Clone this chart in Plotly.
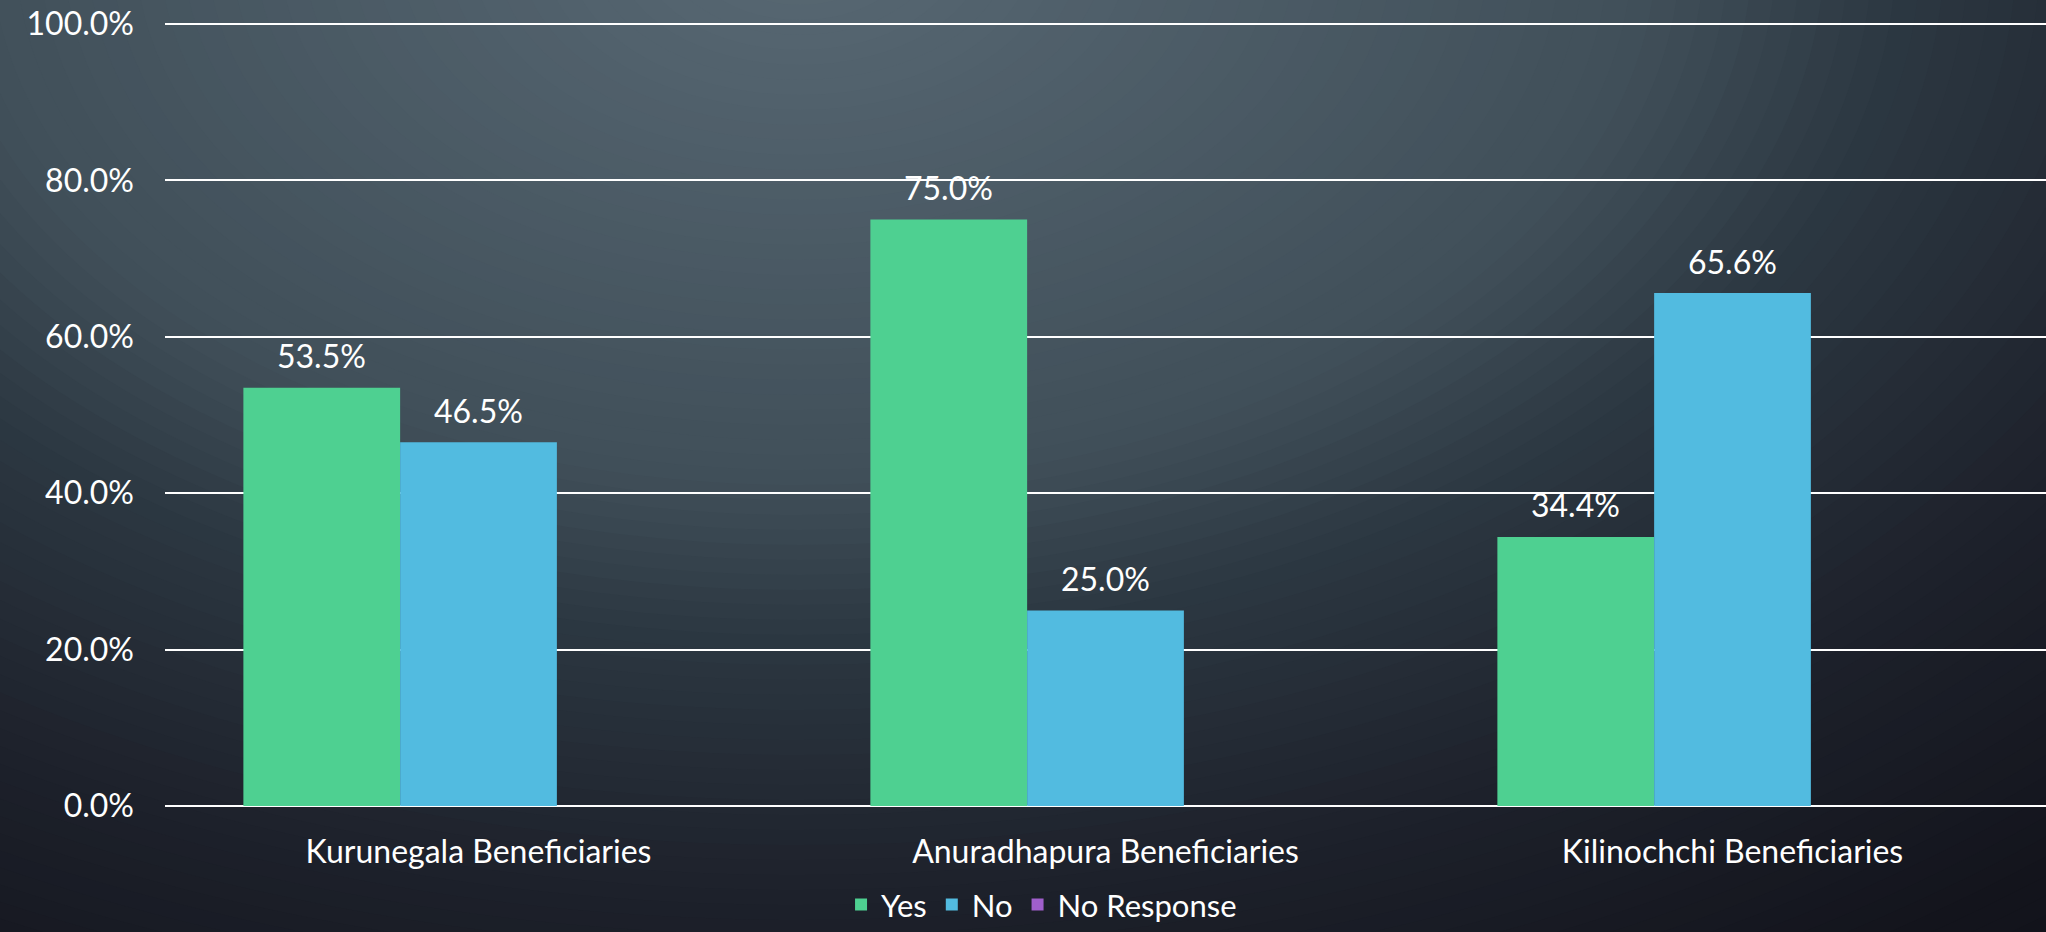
import plotly.graph_objects as go

# ---- data ----
categories = ["Kurunegala Beneficiaries", "Anuradhapura Beneficiaries", "Kilinochchi Beneficiaries"]
yes_pct = [53.5, 75.0, 34.4]
no_pct = [46.5, 25.0, 65.6]
no_response_pct = [0.0, 0.0, 0.0]
y_ticks = [0, 20, 40, 60, 80, 100]
y_tick_labels = ["0.0%", "20.0%", "40.0%", "60.0%", "80.0%", "100.0%"]

# ---- styling ----
FONT = "Lato"
FS = 32
WHITE = "#ffffff"
GREEN = "#4ed091"
BLUE = "#52bbe0"
PURPLE = "#a05fcc"

W, H = 2046, 932
L, R, T, B = 165, 0, 22, 126
PLOT_W = W - L - R
BARGAP = 0.25
N_SERIES = 3
bar_px = PLOT_W / len(categories) * (1 - BARGAP) / N_SERIES

fig = go.Figure()
series = [("Yes", yes_pct, GREEN), ("No", no_pct, BLUE), ("No Response", no_response_pct, PURPLE)]
for name, vals, col in series:
    fig.add_trace(go.Bar(
        name=name, x=categories, y=vals,
        marker=dict(color=col, line=dict(width=0)),
    ))

# value labels above the visible bars
annotations = []
for i, (name, vals, col) in enumerate(series[:2]):
    shift = (i - (N_SERIES - 1) / 2) * bar_px
    for cat, v in zip(categories, vals):
        annotations.append(dict(
            x=cat, y=v, xref="x", yref="y", text=f"{v:.1f}%",
            showarrow=False, xshift=shift, yshift=32,
            xanchor="center", yanchor="middle",
            font=dict(family=FONT, size=FS, color=WHITE),
        ))

# ---- radial background glow (stacked ellipses, lightest near top centre) ----
stops = [  # (radius px, rgb)
    (0, (88, 104, 114)),
    (115, (83, 99, 110)),
    (540, (64, 79, 89)),
    (690, (44, 56, 66)),
    (870, (34, 40, 50)),
    (950, (29, 33, 43)),
    (1215, (19, 20, 28)),
    (1450, (16, 17, 24)),
]


def color_at(r):
    for (r0, c0), (r1, c1) in zip(stops[:-1], stops[1:]):
        if r0 <= r <= r1:
            t = (r - r0) / (r1 - r0)
            return "rgb(%d,%d,%d)" % tuple(round(a + (b - a) * t) for a, b in zip(c0, c1))
    return "rgb(%d,%d,%d)" % stops[-1][1]


cx_px, cy_px = 800, -50          # glow centre in page pixels
x_anchor = (cx_px - L) / PLOT_W
y_anchor = (H - B - cy_px) / (H - T - B)
aspect = 1.6
shapes = []
r = 1450
while r > 0:
    shapes.append(dict(
        type="circle", xref="paper", yref="paper",
        xsizemode="pixel", ysizemode="pixel",
        xanchor=x_anchor, yanchor=y_anchor,
        x0=-aspect * r, x1=aspect * r, y0=-r, y1=r,
        fillcolor=color_at(r), line=dict(width=0), layer="below",
    ))
    r -= 15

fig.update_layout(
    width=W, height=H,
    margin=dict(l=L, r=R, t=T, b=B, autoexpand=False),
    paper_bgcolor="#101118",
    plot_bgcolor="rgba(0,0,0,0)",
    shapes=shapes,
    annotations=annotations,
    barmode="group",
    bargap=BARGAP,
    bargroupgap=0,
    font=dict(family=FONT, color=WHITE, size=FS),
    showlegend=True,
    legend=dict(
        orientation="h", x=0.466, xanchor="center", y=-0.126, yanchor="middle",
        font=dict(family=FONT, size=31, color=WHITE),
        bgcolor="rgba(0,0,0,0)", traceorder="normal",
        itemwidth=30,
    ),
    xaxis=dict(
        showgrid=False, showline=False, zeroline=False,
        ticks="", ticklabelstandoff=24,
        tickfont=dict(family=FONT, size=FS, color=WHITE),
    ),
    yaxis=dict(
        range=[0, 100.256], tickvals=y_ticks, ticktext=y_tick_labels,
        showgrid=True, gridcolor=WHITE, gridwidth=2,
        zeroline=True, zerolinecolor=WHITE, zerolinewidth=2,
        showline=False, ticks="", ticklabelstandoff=30,
        tickfont=dict(family=FONT, size=FS, color=WHITE),
    ),
)

fig.write_html("out.html")
